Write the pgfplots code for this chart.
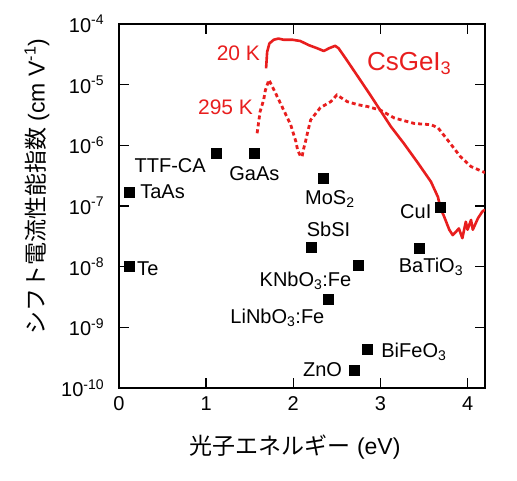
\documentclass[border=0pt]{standalone}
\usepackage{fontspec}
\setmainfont{Liberation Sans}
\newfontfamily\jp{Noto Sans CJK JP}
\usepackage{pgfplots}
\pgfplotsset{compat=1.18}
\definecolor{cred}{RGB}{232,30,30}
\begin{document}
\fontsize{20}{24}\selectfont
\begin{tikzpicture}[font=\fontsize{20}{24}\selectfont]
\begin{semilogyaxis}[
  scale only axis, width=366pt, height=364pt,
  at={(0,0)}, anchor=south west,
  xmin=0, xmax=4.2, ymin=1e-10, ymax=1e-4,
  xtick={0,1,2,3,4}, xticklabels={0,1,2,3,4},
  ytick={1e-10,1e-9,1e-8,1e-7,1e-6,1e-5,1e-4},
  yticklabels={10\textsuperscript{-10},10\textsuperscript{-9},10\textsuperscript{-8},10\textsuperscript{-7},10\textsuperscript{-6},10\textsuperscript{-5},10\textsuperscript{-4}},
  yminorticks=false, xminorticks=false,
  tick align=inside, major tick length=10pt,
  xtick pos=both, ytick pos=both,
  xticklabel pos=bottom, yticklabel pos=left,
  axis line style={line width=1.5pt},
  every tick/.style={black, line width=1.5pt},
  tick label style={font=\fontsize{20}{24}\selectfont},
  yticklabel style={xshift=-8pt},
  xticklabel style={yshift=-2pt},
  label style={font=\fontsize{23}{27}\selectfont},
  clip=true,
  xlabel={{\jp 光子エネルギー} (eV)},
  xlabel style={at={(axis description cs:0.481,-0.162)}, anchor=center},
  ylabel={{\jp シフト電流性能指数} (cm V\textsuperscript{-1})},
  ylabel style={at={(axis description cs:-0.224,0.553)}, anchor=center, rotate=0},
]
% 20 K solid
\addplot[cred, line width=2.6pt, line join=round] coordinates {
(1.688,1.86e-5) (1.70,3.47e-5) (1.726,4.79e-5) (1.776,5.50e-5) (1.83,5.75e-5)
(1.89,5.50e-5) (1.99,5.50e-5) (2.08,5.25e-5) (2.18,4.47e-5) (2.275,3.98e-5)
(2.35,3.59e-5) (2.41,3.98e-5) (2.48,4.37e-5) (2.52,3.98e-5) (2.60,2.72e-5)
(2.715,1.55e-5) (2.87,7.24e-6) (2.97,4.37e-6) (3.12,2.04e-6) (3.27,1.07e-6)
(3.43,5.13e-7) (3.58,2.51e-7) (3.66,1.41e-7) (3.69,9.12e-8) (3.73,6.76e-8)
(3.79,4.07e-8) (3.83,3.31e-8) (3.87,3.80e-8) (3.90,4.27e-8) (3.94,2.95e-8)
(3.98,5.50e-8) (4.00,4.07e-8) (4.04,5.89e-8) (4.06,4.07e-8) (4.12,6.31e-8)
(4.17,8.13e-8) (4.20,8.71e-8)
};
% 295 K dotted
\addplot[cred, line width=2.8pt, dash pattern=on 4pt off 3pt] coordinates {
(1.585,1.58e-6) (1.603,2.45e-6) (1.62,3.63e-6) (1.66,5.62e-6) (1.68,8.13e-6)
(1.72,1.20e-5) (1.78,8.13e-6) (1.87,4.37e-6) (1.97,2.19e-6) (2.03,1.15e-6)
(2.05,8.32e-7) (2.08,6.76e-7) (2.10,6.46e-7) (2.12,8.91e-7) (2.14,1.15e-6)
(2.17,1.78e-6) (2.20,2.63e-6) (2.31,4.17e-6) (2.43,5.25e-6) (2.50,6.76e-6)
(2.62,5.25e-6) (2.74,4.68e-6) (2.85,4.37e-6) (3.00,3.80e-6) (3.16,2.82e-6)
(3.39,2.29e-6) (3.58,2.19e-6) (3.66,1.95e-6) (3.77,1.23e-6) (3.92,6.46e-7)
(4.04,4.47e-7) (4.20,3.55e-7)
};
% materials
\addplot[only marks, mark=square*, mark size=5pt, black] coordinates {
(0.12,1.7e-7) (0.12,1.0e-8) (1.12,7.4e-7) (1.55,7.3e-7) (2.34,2.9e-7)
(3.69,9.6e-8) (2.20,2.1e-8) (3.45,2.0e-8) (2.75,1.07e-8) (2.40,2.9e-9)
(2.85,4.3e-10) (2.70,2.0e-10)
};
\node[anchor=east, text=cred, inner sep=0pt, font=\fontsize{21}{25}\selectfont] at (axis cs:1.62,3.3e-5) {20 K};
\node[anchor=east, text=cred, inner sep=0pt, font=\fontsize{21}{25}\selectfont] at (axis cs:1.54,4.3e-6) {295 K};
\node[text=cred, font=\fontsize{26}{30}\selectfont] at (axis cs:3.33,2.2e-5) {CsGeI\textsubscript{3}};
\node at (axis cs:0.587,4.6e-7) {TTF-CA};
\node at (axis cs:1.553,3.4e-7) {GaAs};
\node[anchor=west, inner sep=0pt] at (axis cs:0.242,1.7e-7) {TaAs};
\node at (axis cs:2.42,1.3e-7) {MoS\textsubscript{2}};
\node at (axis cs:3.406,8.0e-8) {CuI};
\node at (axis cs:2.405,4.2e-8) {SbSI};
\node[anchor=west, inner sep=0pt] at (axis cs:0.207,9.2e-9) {Te};
\node at (axis cs:3.58,9.8e-9) {BaTiO\textsubscript{3}};
\node at (axis cs:2.14,5.8e-9) {KNbO\textsubscript{3}:Fe};
\node at (axis cs:1.818,1.42e-9) {LiNbO\textsubscript{3}:Fe};
\node at (axis cs:3.384,4.0e-10) {BiFeO\textsubscript{3}};
\node at (axis cs:2.336,2.0e-10) {ZnO};
\end{semilogyaxis}
\pgfresetboundingbox
\path (-119pt,-92pt) rectangle (398pt,388pt);
\end{tikzpicture}
\end{document}
